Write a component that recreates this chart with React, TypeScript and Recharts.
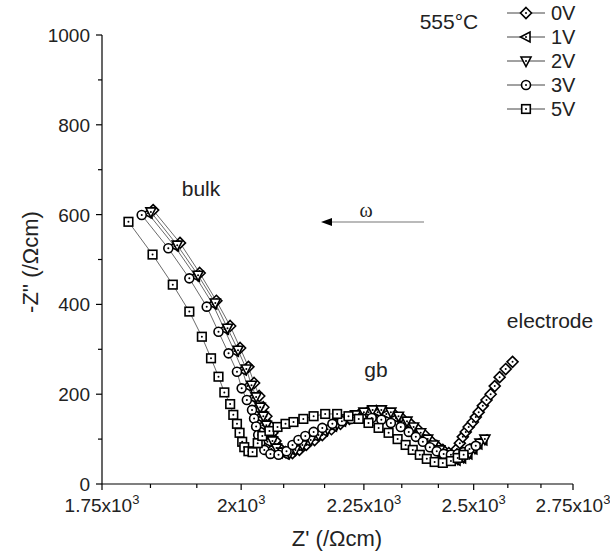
import { ScatterChart, Scatter, XAxis, YAxis } from "recharts"

// Z' (Ohm cm) and -Z'' (Ohm cm)
const re0V = [1838, 1886, 1922, 1953, 1979, 1998, 2014, 2025, 2035, 2043, 2049, 2055, 2061, 2067, 2075, 2087, 2101, 2115, 2129, 2146, 2162, 2181, 2200, 2219, 2239, 2258, 2277, 2297, 2317, 2335, 2353, 2369, 2385, 2399, 2413, 2427, 2441, 2453, 2460, 2467, 2474, 2481, 2488, 2498, 2505, 2512, 2522, 2531, 2541, 2551, 2563, 2578, 2595]
const im0V = [610, 537, 470, 408, 352, 303, 261, 225, 196, 171, 151, 131, 114, 96, 80, 71, 69, 76, 87, 98, 109, 122, 134, 145, 154, 160, 163, 160, 154, 145, 134, 122, 109, 96, 85, 76, 69, 67, 78, 91, 105, 116, 127, 138, 149, 160, 174, 187, 200, 218, 238, 256, 272]

const re1V = [1829, 1876, 1914, 1946, 1968, 1987, 2002, 2012, 2022, 2029, 2035, 2041, 2047, 2051, 2059, 2071, 2085, 2099, 2113, 2129, 2146, 2164, 2183, 2202, 2221, 2241, 2260, 2280, 2299, 2320, 2338, 2356, 2372, 2388, 2401, 2415, 2429, 2443, 2458, 2471, 2486, 2498, 2510, 2522]
const im1V = [603, 530, 463, 401, 345, 296, 254, 218, 192, 169, 149, 131, 111, 94, 78, 69, 67, 76, 85, 96, 107, 118, 129, 140, 149, 156, 160, 160, 156, 147, 136, 122, 109, 96, 82, 71, 62, 56, 53, 58, 67, 78, 89, 98]

const re2V = [1834, 1881, 1919, 1951, 1974, 1994, 2010, 2020, 2029, 2037, 2043, 2049, 2055, 2061, 2069, 2081, 2095, 2107, 2121, 2138, 2154, 2173, 2193, 2212, 2232, 2250, 2269, 2288, 2309, 2326, 2345, 2360, 2376, 2392, 2406, 2420, 2434, 2448, 2462, 2476, 2490, 2503, 2515, 2527]
const im2V = [606, 532, 465, 403, 347, 298, 256, 220, 194, 171, 151, 131, 114, 96, 80, 71, 69, 76, 87, 98, 109, 122, 134, 145, 154, 160, 165, 165, 160, 151, 140, 127, 114, 100, 87, 76, 65, 58, 56, 60, 69, 80, 91, 100]

const re3V = [1818, 1865, 1903, 1935, 1957, 1976, 1992, 2001, 2011, 2021, 2025, 2029, 2033, 2037, 2045, 2057, 2073, 2089, 2101, 2113, 2127, 2144, 2162, 2183, 2203, 2223, 2245, 2267, 2288, 2309, 2331, 2349, 2365, 2381, 2397, 2413, 2429, 2446, 2462, 2476, 2490, 2505]
const im3V = [599, 525, 458, 395, 339, 291, 250, 213, 187, 165, 146, 128, 109, 91, 76, 67, 65, 73, 87, 98, 107, 116, 125, 134, 140, 145, 147, 147, 143, 136, 127, 116, 105, 94, 82, 73, 67, 65, 67, 71, 78, 85]

const re5V = [1795, 1837, 1873, 1903, 1926, 1943, 1957, 1968, 1979, 1985, 1992, 1997, 2002, 2006, 2014, 2022, 2032, 2041, 2055, 2071, 2087, 2103, 2123, 2144, 2168, 2193, 2217, 2239, 2260, 2282, 2304, 2324, 2342, 2358, 2374, 2390, 2408, 2427, 2446, 2462, 2476]
const im5V = [584, 511, 444, 384, 328, 280, 239, 204, 178, 154, 134, 114, 94, 82, 73, 71, 91, 107, 118, 127, 134, 138, 145, 151, 156, 156, 151, 145, 136, 125, 114, 100, 87, 76, 65, 56, 49, 47, 51, 58, 65]

const xMajorTicks = [1750, 2000, 2250, 2500, 2750]
const xMinorTicks = [1833.3, 1916.7, 2083.3, 2166.7, 2333.3, 2416.7, 2583.3, 2666.7]
const xTickLabels = ["1.75", "2", "2.25", "2.5", "2.75"]
const yMajorTicks = [0, 200, 400, 600, 800, 1000]
const yMinorTicks = [100, 300, 500, 700, 900]

const FONT = "'Liberation Sans', Arial, sans-serif"

type Kind = "diamond" | "left" | "down" | "circle" | "square"

const series: { name: string; kind: Kind; re: number[]; im: number[] }[] = [
  { name: "0V", kind: "diamond", re: re0V, im: im0V },
  { name: "1V", kind: "left", re: re1V, im: im1V },
  { name: "2V", kind: "down", re: re2V, im: im2V },
  { name: "3V", kind: "circle", re: re3V, im: im3V },
  { name: "5V", kind: "square", re: re5V, im: im5V },
]

function Marker({ cx, cy, kind }: { cx: number; cy: number; kind: Kind }) {
  const s = { fill: "#fff", stroke: "#000", strokeWidth: 1.6 }
  let body
  if (kind === "diamond") {
    body = <polygon points={`${cx},${cy - 5.5} ${cx + 5.5},${cy} ${cx},${cy + 5.5} ${cx - 5.5},${cy}`} {...s} />
  } else if (kind === "left") {
    body = <polygon points={`${cx - 5.5},${cy} ${cx + 4},${cy - 5} ${cx + 4},${cy + 5}`} {...s} />
  } else if (kind === "down") {
    body = <polygon points={`${cx - 5},${cy - 4} ${cx + 5},${cy - 4} ${cx},${cy + 5.5}`} {...s} />
  } else if (kind === "circle") {
    body = <circle cx={cx} cy={cy} r={4.5} {...s} />
  } else {
    body = <rect x={cx - 4.3} y={cy - 4.3} width={8.6} height={8.6} {...s} />
  }
  return (
    <g>
      {body}
      <circle cx={cx} cy={cy} r={1} fill="#000" />
    </g>
  )
}

function XTick(props: any) {
  const { x, y, payload } = props
  const i = xMajorTicks.indexOf(payload.value)
  const major = i >= 0
  return (
    <g>
      <line x1={x} x2={x} y1={y} y2={y + (major ? 6 : 4)} stroke="#000" strokeWidth={1.2} />
      {major && (
        <text x={x} y={y + 28} textAnchor="middle" fontSize={19} fontFamily={FONT} fill="#222">
          {xTickLabels[i]}x10<tspan dy={-8} fontSize={13}>3</tspan>
        </text>
      )}
    </g>
  )
}

function YTick(props: any) {
  const { x, y, payload } = props
  const major = yMajorTicks.includes(payload.value)
  return (
    <g>
      <line x1={x} x2={x - (major ? 6 : 4)} y1={y} y2={y} stroke="#000" strokeWidth={1.2} />
      {major && (
        <text x={x - 12} y={y + 7} textAnchor="end" fontSize={19} fontFamily={FONT} fill="#222">
          {payload.value}
        </text>
      )}
    </g>
  )
}

export default function App() {
  return (
    <div style={{ position: "relative", width: 610, height: 554, background: "#fff" }}>
      <style>{"body{margin:0}"}</style>
      <ScatterChart width={610} height={554} margin={{ top: 35, right: 37, bottom: 20, left: 42 }}>
        <XAxis
          type="number"
          dataKey="x"
          scale="log"
          domain={[1750, 2750]}
          allowDataOverflow
          ticks={[...xMajorTicks, ...xMinorTicks]}
          interval={0}
          tickLine={false}
          tickSize={0}
          tickMargin={0}
          tick={<XTick />}
          axisLine={{ stroke: "#000", strokeWidth: 1.2 }}
          height={50}
        />
        <YAxis
          type="number"
          dataKey="y"
          domain={[0, 1000]}
          allowDataOverflow
          ticks={[...yMajorTicks, ...yMinorTicks]}
          interval={0}
          tickLine={false}
          tickSize={0}
          tickMargin={0}
          tick={<YTick />}
          axisLine={{ stroke: "#000", strokeWidth: 1.2 }}
          width={60}
        />
        {series.map((s) => (
          <Scatter
            key={s.name}
            name={s.name}
            data={s.re.map((x, i) => ({ x, y: s.im[i] }))}
            line={{ stroke: "#444", strokeWidth: 0.8 }}
            lineType="joint"
            shape={(p: any) => <Marker cx={p.cx} cy={p.cy} kind={s.kind} />}
            isAnimationActive={false}
          />
        ))}
      </ScatterChart>
      <svg
        width={610}
        height={554}
        style={{ position: "absolute", left: 0, top: 0, pointerEvents: "none" }}
        fontFamily={FONT}
        fill="#222"
      >
        {series.map((s, i) => {
          const y = 13 + i * 24
          return (
            <g key={s.name}>
              <line x1={507} x2={545} y1={y} y2={y} stroke="#444" strokeWidth={1} />
              <Marker cx={526} cy={y} kind={s.kind} />
              <text x={551} y={y + 7} fontSize={20}>{s.name}</text>
            </g>
          )
        })}
        <text x={449} y={29} fontSize={21} textAnchor="middle">555°C</text>
        <text x={201} y={196} fontSize={21} textAnchor="middle">bulk</text>
        <text x={376} y={377} fontSize={21} textAnchor="middle">gb</text>
        <text x={550} y={328} fontSize={21} textAnchor="middle">electrode</text>
        <text x={366} y={217} fontSize={20} textAnchor="middle" fontFamily="'Liberation Serif', serif">ω</text>
        <line x1={424} x2={330} y1={222} y2={222} stroke="#777" strokeWidth={1.2} />
        <polygon points="321,222 332,218 332,226" fill="#000" />
        <text x={337} y={546} fontSize={22} textAnchor="middle">Z' (/Ωcm)</text>
        <text x={38} y={262} fontSize={22} textAnchor="middle" transform="rotate(-90 38 262)">-Z'' (/Ωcm)</text>
      </svg>
    </div>
  )
}
